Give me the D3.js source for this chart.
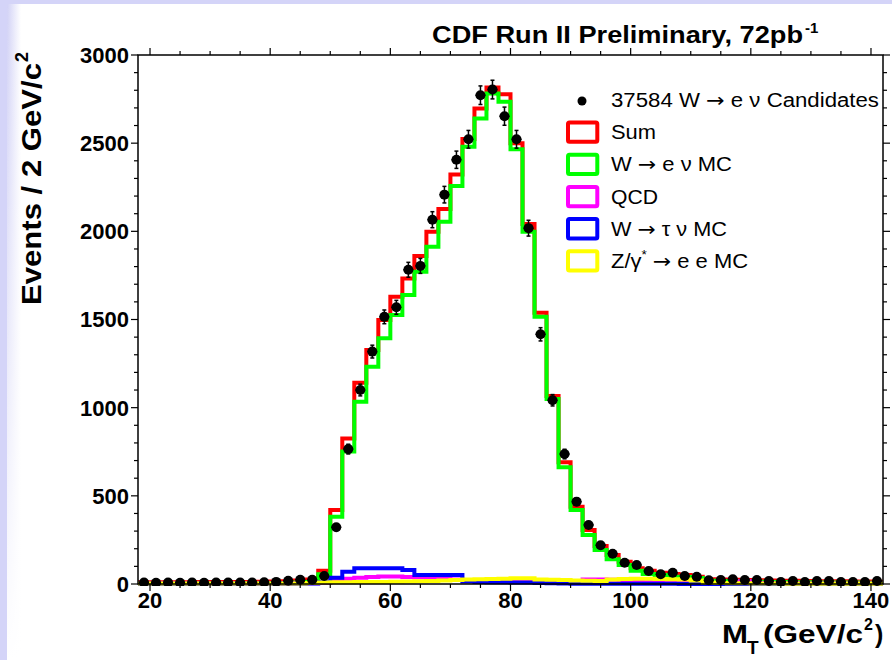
<!DOCTYPE html>
<html>
<head>
<meta charset="utf-8">
<script src="https://cdn.jsdelivr.net/npm/d3@7/dist/d3.min.js"></script>
<style>
  body { margin: 0; background: #fff; }
  svg { display: block; }
  text { font-family: "Liberation Sans", Arial, sans-serif; }
</style>
</head>
<body>
<svg id="chart" width="892" height="660"></svg>
<script>
// M_T bins, 2 GeV wide
const binWidth = 2
const binCenters = [19, 21, 23, 25, 27, 29, 31, 33, 35, 37, 39, 41, 43, 45, 47, 49, 51, 53, 55, 57,
    59, 61, 63, 65, 67, 69, 71, 73, 75, 77, 79, 81, 83, 85, 87, 89, 91, 93, 95, 97,
    99, 101, 103, 105, 107, 109, 111, 113, 115, 117, 119, 121, 123, 125, 127, 129, 131, 133, 135, 137,
    139, 141]

const dataCounts = [8, 7, 8, 7, 8, 7, 9, 8, 9, 9, 10, 12, 18, 24, 24, 45, 322, 765, 1100, 1318,
    1515, 1569, 1782, 1804, 2066, 2208, 2406, 2522, 2772, 2804, 2653, 2522, 2018, 1416, 1042, 737, 467, 335, 220, 172,
    121, 108, 74, 55, 64, 45, 41, 21, 23, 27, 23, 23, 17, 11, 17, 11, 17, 17, 11, 11,
    11, 17]

const sumMC = [10, 10, 10, 10, 10, 11, 11, 11, 12, 12, 13, 14, 16, 20, 25, 75, 420, 825, 1141, 1327,
    1497, 1629, 1733, 1860, 1998, 2126, 2323, 2523, 2697, 2816, 2778, 2499, 2041, 1538, 1066, 690, 438, 306, 215, 164,
    126, 89, 75, 64, 57, 51, 41, 27, 25, 24, 22, 21, 20, 19, 18, 17, 16, 15, 15, 14,
    14, 13]

const wenuMC = [2, 2, 2, 2, 2, 3, 3, 3, 3, 4, 4, 5, 6, 8, 12, 55, 382, 752, 1034, 1232,
    1393, 1525, 1639, 1771, 1912, 2054, 2257, 2480, 2640, 2782, 2735, 2465, 1998, 1516, 1049, 662, 420, 278, 193, 140,
    108, 75, 57, 51, 41, 40, 34, 18, 17, 15, 14, 13, 12, 11, 10, 10, 9, 9, 8, 8,
    7, 7]

const qcd = [3, 3, 3, 3, 3, 3, 3, 3, 3, 3, 3, 3, 3, 4, 4, 5, 20, 30, 35, 40,
    42, 42, 40, 38, 35, 30, 25, 20, 18, 16, 15, 14, 13, 12, 12, 11, 10, 25, 25, 24,
    22, 12, 10, 9, 9, 8, 7, 6, 5, 5, 15, 5, 4, 4, 4, 3, 3, 3, 3, 3,
    3, 3]

const wtaunuMC = [1, 1, 1, 1, 1, 1, 1, 1, 1, 1, 1, 1, 1, 2, 3, 10, 35, 70, 89, 89,
    89, 89, 80, 51, 51, 51, 51, 14, 12, 10, 10, 9, 8, 6, 4, 3, 2, 2, 1, 1,
    1, 1, 1, 1, 1, 0, 0, 0, 0, 0, 0, 0, 0, 0, 0, 0, 0, 0, 0, 0,
    0, 0]

const zeeMC = [3, 3, 3, 3, 3, 3, 3, 3, 3, 3, 3, 3, 3, 3, 5, 8, 10, 10, 11, 12,
    12, 13, 14, 15, 17, 20, 22, 25, 27, 28, 30, 32, 32, 25, 24, 22, 20, 18, 17, 25,
    28, 30, 30, 28, 27, 25, 20, 8, 5, 4, 4, 3, 3, 3, 2, 2, 2, 2, 2, 2,
    2, 2]

const xTicks = [20, 40, 60, 80, 100, 120, 140]
const yTicks = [0, 500, 1000, 1500, 2000, 2500, 3000]

// legend rows: [before arrow, after arrow], drawn with a wide arrow glyph
const legendParts = [['Sum'], ['W', 'e \u03bd MC'], ['QCD'], ['W', '\u03c4 \u03bd MC'], ['Z/\u03b3', 'e e MC']]
const legendWidths = [45, 121, 47, 116, 137]
const legendColors = ['#ff0000', '#00ff00', '#ff00ff', '#0000ff', '#ffff00']

const svg = d3.select('#chart')

// page frame
const defs = svg.append('defs')
const grad = defs.append('linearGradient').attr('id', 'edge').attr('x1', 0).attr('x2', 1).attr('y1', 0).attr('y2', 0)
grad.append('stop').attr('offset', 0).attr('stop-color', '#d2d2f6')
grad.append('stop').attr('offset', 1).attr('stop-color', '#ffffff')
const vfade = defs.append('linearGradient').attr('id', 'vfade').attr('x1', 0).attr('x2', 0).attr('y1', 0).attr('y2', 1)
vfade.append('stop').attr('offset', 0).attr('stop-color', '#fff').attr('stop-opacity', 0)
vfade.append('stop').attr('offset', 1).attr('stop-color', '#fff').attr('stop-opacity', 1)

svg.append('rect').attr('width', 892).attr('height', 660).attr('fill', '#fff')
svg.append('rect').attr('x', 7).attr('y', 0).attr('width', 14).attr('height', 660).attr('fill', 'url(#edge)')
svg.append('rect').attr('x', 7).attr('y', 0).attr('width', 14).attr('height', 660).attr('fill', 'url(#vfade)')
svg.append('rect').attr('x', 0).attr('y', 0).attr('width', 7).attr('height', 660).attr('fill', '#d4d4f8')
svg.append('rect').attr('x', 0).attr('y', 0).attr('width', 892).attr('height', 4).attr('fill', '#d4d4f8')

const padL = 138, padR = 883, padT = 55, padB = 584

const x = d3.scaleLinear()
    .domain([18, 142])
    .range([padL, padR])

const y = d3.scaleLinear()
    .domain([0, 3000])
    .range([padB, padT])

defs.append('clipPath').attr('id', 'plotclip')
    .append('rect').attr('x', padL).attr('y', padT - 2).attr('width', padR - padL).attr('height', padB - padT + 4)

const plot = svg.append('g').attr('clip-path', 'url(#plotclip)')

function stepPoints(vals) {
    let pts = binCenters.map((c, i) => [c - binWidth / 2, vals[i]])
    pts.push([binCenters[binCenters.length - 1] + binWidth / 2, vals[vals.length - 1]])
    return pts
}

const stepLine = d3.line()
    .x(d => x(d[0]))
    .y(d => y(d[1]))
    .curve(d3.curveStepAfter)

const series = [sumMC, wenuMC, qcd, wtaunuMC, zeeMC]
series.forEach((vals, i) => {
    plot.append('path')
        .attr('d', stepLine(stepPoints(vals)))
        .attr('fill', 'none')
        .attr('stroke', legendColors[i])
        .attr('stroke-width', 4)
        .attr('stroke-linejoin', 'miter')
})

// data points with errors
const pts = plot.append('g')
binCenters.forEach((c, i) => {
    let n = dataCounts[i]
    let err = Math.sqrt(n)
    let cx = x(c), cy = y(n)
    pts.append('line')
        .attr('x1', cx).attr('x2', cx)
        .attr('y1', y(n + err)).attr('y2', y(n - err))
        .attr('stroke', '#000').attr('stroke-width', 1.5)
    pts.append('line')
        .attr('x1', x(c - binWidth / 2) + 1).attr('x2', x(c + binWidth / 2) - 1)
        .attr('y1', cy).attr('y2', cy)
        .attr('stroke', '#000').attr('stroke-width', 1.5)
    for (const e of [n + err, n - err]) {
        pts.append('line')
            .attr('x1', cx - 2).attr('x2', cx + 2)
            .attr('y1', y(e)).attr('y2', y(e))
            .attr('stroke', '#000').attr('stroke-width', 1.5)
    }
    pts.append('circle')
        .attr('cx', cx).attr('cy', cy).attr('r', 5)
        .attr('fill', '#000')
})

// frame + ticks
const axes = svg.append('g').attr('stroke', '#000')
axes.append('rect')
    .attr('x', padL).attr('y', padT).attr('width', padR - padL).attr('height', padB - padT)
    .attr('fill', 'none').attr('stroke-width', 1.5)

const xMinor = d3.range(20, 142, 5)
for (const t of xMinor) {
    let len = t % 20 === 0 ? 7 : 4
    axes.append('line').attr('x1', x(t)).attr('x2', x(t)).attr('y1', padB).attr('y2', padB + len).attr('stroke-width', 1.2)
    axes.append('line').attr('x1', x(t)).attr('x2', x(t)).attr('y1', padT).attr('y2', padT - len).attr('stroke-width', 1.2)
}
const yMinor = d3.range(0, 3001, 100)
for (const t of yMinor) {
    let len = t % 500 === 0 ? 7 : 4
    axes.append('line').attr('x1', padL).attr('x2', padL - len).attr('y1', y(t)).attr('y2', y(t)).attr('stroke-width', 1.2)
    axes.append('line').attr('x1', padR).attr('x2', padR + len).attr('y1', y(t)).attr('y2', y(t)).attr('stroke-width', 1.2)
}

svg.append('g').selectAll('text').data(xTicks).join('text')
    .attr('x', d => x(d)).attr('y', 608)
    .attr('text-anchor', 'middle')
    .attr('font-size', 22).attr('font-weight', 'bold')
    .text(d => d)

svg.append('g').selectAll('text').data(yTicks).join('text')
    .attr('x', 129).attr('y', d => y(d))
    .attr('dy', '0.36em')
    .attr('text-anchor', 'end')
    .attr('font-size', 22).attr('font-weight', 'bold')
    .text(d => d)

// title (ROOT text renders wider than Arial, so stretch to the measured span)
svg.append('text')
    .attr('x', 432).attr('y', 43)
    .attr('font-size', 23).attr('font-weight', 'bold')
    .attr('textLength', 371).attr('lengthAdjust', 'spacingAndGlyphs')
    .text('CDF Run II Preliminary, 72pb')
svg.append('text')
    .attr('x', 805).attr('y', 33)
    .attr('font-size', 15).attr('font-weight', 'bold')
    .text('-1')

// y axis title
svg.append('text')
    .attr('transform', 'translate(41,305) rotate(-90)')
    .attr('font-size', 28).attr('font-weight', 'bold')
    .attr('textLength', 242).attr('lengthAdjust', 'spacingAndGlyphs')
    .text('Events / 2 GeV/c')
svg.append('text')
    .attr('transform', 'translate(28,62) rotate(-90)')
    .attr('font-size', 18).attr('font-weight', 'bold')
    .text('2')

// x axis title
const xlab = svg.append('g').attr('font-weight', 'bold')
xlab.append('text').attr('x', 722).attr('y', 643).attr('font-size', 25)
    .attr('textLength', 26).attr('lengthAdjust', 'spacingAndGlyphs').text('M')
xlab.append('text').attr('x', 747).attr('y', 654).attr('font-size', 19).text('T')
xlab.append('text').attr('x', 763).attr('y', 643).attr('font-size', 25)
    .attr('textLength', 100).attr('lengthAdjust', 'spacingAndGlyphs').text('(GeV/c')
xlab.append('text').attr('x', 864).attr('y', 630).attr('font-size', 16).text('2')
xlab.append('text').attr('x', 875).attr('y', 643).attr('font-size', 25).text(')')

// legend
const leg = svg.append('g')
const legY = i => 100 + i * 32.2

function arrowLabel(sel, parts) {
    sel.append('tspan').text(parts[0])
    if (parts[0] === 'Z/\u03b3') {
        sel.append('tspan').attr('font-size', 12).attr('dy', -9).text('*')
        sel.append('tspan').attr('dy', 9).text(' ')
    } else {
        sel.append('tspan').text(' ')
    }
    sel.append('tspan').attr('font-family', 'DejaVu Sans').text('\u2192')
    sel.append('tspan').text(' ' + parts[1])
}

leg.append('circle').attr('cx', 582).attr('cy', legY(0) + 1).attr('r', 4.5).attr('fill', '#000')
const cand = leg.append('text').attr('x', 611).attr('y', legY(0) + 7)
    .attr('font-size', 19.5)
    .attr('textLength', 268).attr('lengthAdjust', 'spacingAndGlyphs')
cand.append('tspan').text('37584 ')
arrowLabel(cand, ['W', 'e \u03bd Candidates'])

legendParts.forEach((parts, i) => {
    let yy = legY(i + 1)
    leg.append('rect')
        .attr('x', 568).attr('y', yy - 9.7).attr('width', 29.3).attr('height', 19.3)
        .attr('rx', 1.5)
        .attr('fill', 'none').attr('stroke', legendColors[i]).attr('stroke-width', 4)
    let t = leg.append('text').attr('x', 611).attr('y', yy + 7)
        .attr('font-size', 19.5)
        .attr('textLength', legendWidths[i]).attr('lengthAdjust', 'spacingAndGlyphs')
    if (parts.length === 1) t.text(parts[0])
    else arrowLabel(t, parts)
})
</script>
</body>
</html>
